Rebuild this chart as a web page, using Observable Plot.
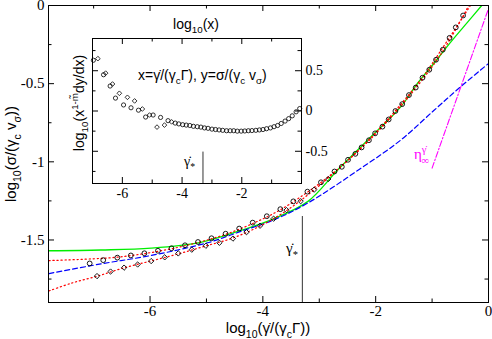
<!DOCTYPE html>
<html><head><meta charset="utf-8">
<script src="https://cdn.jsdelivr.net/npm/d3@7"></script>
<script src="https://cdn.jsdelivr.net/npm/@observablehq/plot@0.6"></script>
<style>
body{margin:0;background:#fff}
#wrap{position:relative;width:492px;height:339px;overflow:hidden;background:#fff}
#wrap svg{position:absolute;left:0;top:0}
</style></head><body><div id="wrap"></div>
<script>
// ---------- main panel data ----------
const circX = [-7.07,-6.83,-6.58,-6.34,-6.10,-5.86,-5.62,-5.38,-5.15,-4.91,-4.66,-4.42,-4.18,-3.93,-3.69,-3.46,-3.21,-2.97,-2.73,-2.49,-2.25,-2.01,-1.77,-1.53,-1.29,-1.05,-0.81,-0.58];
const circY = [-1.650,-1.629,-1.613,-1.599,-1.585,-1.569,-1.553,-1.534,-1.513,-1.489,-1.460,-1.427,-1.389,-1.348,-1.303,-1.253,-1.191,-1.131,-1.062,-0.987,-0.908,-0.818,-0.729,-0.631,-0.525,-0.411,-0.283,-0.140];
const diamX = [-6.94,-6.70,-6.46,-6.22,-5.98,-5.74,-5.50,-5.26,-5.01,-4.77,-4.53,-4.29,-4.05,-3.81,-3.58,-3.33,-3.09,-2.84];
const diamY = [-1.731,-1.702,-1.677,-1.657,-1.635,-1.611,-1.586,-1.562,-1.537,-1.518,-1.491,-1.450,-1.409,-1.364,-1.309,-1.252,-1.178,-1.110];
const circ2X = [-2.60,-2.36,-2.12,-1.88,-1.65,-1.41,-1.17,-0.93,-0.69,-0.45];
const circ2Y = [-1.032,-0.949,-0.862,-0.775,-0.675,-0.573,-0.462,-0.347,-0.207,-0.064];
const redAX = [-7.79,-7.04,-6.58,-6.11,-5.63,-5.15,-4.67,-4.18,-3.70,-3.22,-2.73,-2.25,-1.77,-1.29,-0.81,-0.35];
const redAY = [-1.632,-1.621,-1.610,-1.588,-1.557,-1.516,-1.465,-1.395,-1.309,-1.197,-1.064,-0.911,-0.732,-0.529,-0.293,0.0];
const redBX = [-7.79,-7.40,-6.94,-6.46,-5.98,-5.50,-5.01,-4.53,-4.05,-3.58,-3.10,-2.60,-2.12,-1.65,-1.17,-0.69,-0.32];
const redBY = [-1.826,-1.777,-1.732,-1.678,-1.634,-1.589,-1.538,-1.487,-1.411,-1.312,-1.182,-1.025,-0.858,-0.672,-0.459,-0.204,0.0];
const greenX = [-7.79,-6.87,-5.98,-5.10,-4.39,-3.81,-3.20,-2.67,-2.14,-1.56,-1.26,-0.97,-0.67,-0.37,-0.12];
const greenY = [-1.569,-1.564,-1.552,-1.515,-1.439,-1.365,-1.253,-1.051,-0.860,-0.650,-0.499,-0.371,-0.234,-0.106,0.0];
const blueX = [-7.79,-6.87,-5.98,-4.96,-4.39,-3.81,-3.20,-2.30,-1.56,-0.97,-0.53,0];
const blueY = [-1.715,-1.653,-1.599,-1.516,-1.445,-1.372,-1.263,-1.051,-0.862,-0.672,-0.531,-0.371];
const etaX = [-1.0, 0.0];
const etaY = [-1.04, -0.02];
const gammaStar = -3.3;
const mainStarSpan = [-1.35, -1.9];
const mainXMajor = [-6,-4,-2,0], mainXMinor = [-7,-5,-3,-1];
const mainYMajor = [0,-0.5,-1,-1.5], mainYMinor = [-0.25,-0.75,-1.25,-1.75];

// ---------- inset data ----------
const inCircX = [-6.97,-6.63,-6.41,-6.23,-5.96,-5.71,-5.46,-5.22,-4.97,-4.72,-4.47,-4.23,-3.98,-3.74,-3.49,-3.25,-3.00,-2.76,-2.51,-2.27,-2.02,-1.78,-1.53,-1.29,-1.04,-0.80,-0.55,-0.31,-0.06];
const inCircY = [0.63,0.45,0.31,0.16,0.075,0.04,0.01,-0.075,-0.05,-0.08,-0.12,-0.15,-0.17,-0.18,-0.195,-0.21,-0.225,-0.235,-0.245,-0.245,-0.25,-0.245,-0.24,-0.23,-0.21,-0.18,-0.125,-0.06,0.03];
const inDiamX = [-6.82,-6.56,-6.33,-6.10,-5.83,-5.59,-5.33,-5.09,-4.84,-4.59,-4.35];
const inDiamY = [0.65,0.47,0.335,0.22,0.17,0.125,0.025,-0.05,-0.20,-0.175,-0.135];
const inCirc2X = [-4.11,-3.86,-3.62,-3.37,-3.13,-2.88,-2.64,-2.39,-2.15,-1.90,-1.66,-1.41,-1.17,-0.92,-0.68,-0.43,-0.18];
const inCirc2Y = [-0.16,-0.175,-0.19,-0.20,-0.215,-0.23,-0.24,-0.245,-0.25,-0.248,-0.243,-0.235,-0.22,-0.195,-0.155,-0.095,-0.01];
const inStarSpan = [-0.51, -0.9];
const inXMajor = [-6,-4,-2], inXMinor = [-7,-5,-3,-1];
const inYMajor = [0.5,0,-0.5], inYMinor = [0.75,0.25,-0.25,-0.75];

const zip = (xs, ys) => xs.map((x, i) => ({x, y: ys[i]}));
const serif = "'Liberation Serif','Times New Roman',serif";
const sans = "'Liberation Sans',Arial,Helvetica,sans-serif";
const W = 492, H = 339;

function edgeTicks(xMaj, xMin, yMaj, yMin, fw, fh, maj, min) {
  const m = [];
  for (const [vals, len] of [[xMaj, maj], [xMin, min]]) {
    m.push(Plot.tickX(vals, {x: d => d, stroke: "black", strokeWidth: 1, insetTop: fh - len}));
    m.push(Plot.tickX(vals, {x: d => d, stroke: "black", strokeWidth: 1, insetBottom: fh - len}));
  }
  for (const [vals, len] of [[yMaj, maj], [yMin, min]]) {
    m.push(Plot.tickY(vals, {y: d => d, stroke: "black", strokeWidth: 1, insetRight: fw - len}));
    m.push(Plot.tickY(vals, {y: d => d, stroke: "black", strokeWidth: 1, insetLeft: fw - len}));
  }
  return m;
}

function rich(svg, {x, y, rotate = 0, anchor = "start", size = 15, family = sans, fill = "black"}, parts) {
  const t = d3.select(svg).append("text")
    .attr("transform", `translate(${x},${y})` + (rotate ? ` rotate(${rotate})` : ""))
    .attr("text-anchor", anchor).attr("font-family", family)
    .attr("font-size", size).attr("fill", fill);
  let shift = 0;
  for (const p of parts) {
    let s, k = null, dx = 0;
    if (typeof p === "string") s = p; else [s, k, dx = 0] = p;
    const target = k === "sub" ? size * 0.3 : k === "sup" ? -size * 0.42 : 0;
    const ts = t.append("tspan").text(s).attr("dy", target - shift);
    if (dx) ts.attr("dx", dx);
    if (k) ts.attr("font-size", size * 0.7);
    shift = target;
  }
}

// ---------- main plot ----------
const mL = 48, mR = 4, mT = 5, mB = 37;
const fw = W - mL - mR, fh = H - mT - mB;
const main = Plot.plot({
  width: W, height: H,
  marginLeft: mL, marginRight: mR, marginTop: mT, marginBottom: mB,
  x: {domain: [-7.8, 0], label: null},
  y: {domain: [-1.9, 0], label: null},
  style: {background: "white", color: "black"},
  marks: [
    ...edgeTicks(mainXMajor, mainXMinor, mainYMajor, mainYMinor, fw, fh, 6, 3.5),
    Plot.axisX(mainXMajor, {tickSize: 0, tickPadding: 3, tickFormat: d => String(d), fontFamily: serif, fontSize: 15, label: null}),
    Plot.axisY(mainYMajor, {tickSize: 0, tickPadding: 4, tickFormat: d => String(d), fontFamily: serif, fontSize: 15, label: null}),
    Plot.line(zip(greenX, greenY), {x: "x", y: "y", stroke: "#00ee00", strokeWidth: 1.3, curve: "catmull-rom", clip: true}),
    Plot.line(zip(blueX, blueY), {x: "x", y: "y", stroke: "#0000ff", strokeWidth: 1.2, strokeDasharray: "5,3", curve: "catmull-rom", clip: true}),
    Plot.line(zip(redAX, redAY), {x: "x", y: "y", stroke: "#ff0000", strokeWidth: 1.2, strokeDasharray: "1.2,2.8", curve: "catmull-rom", clip: true}),
    Plot.line(zip(redBX, redBY), {x: "x", y: "y", stroke: "#ff0000", strokeWidth: 1.2, strokeDasharray: "1.2,2.8", curve: "catmull-rom", clip: true}),
    Plot.line(zip(etaX, etaY), {x: "x", y: "y", stroke: "#ff00ff", strokeWidth: 1.1, strokeDasharray: "6,2,1.5,2", clip: true}),
    Plot.ruleX([gammaStar], {x: d => d, y1: mainStarSpan[0], y2: mainStarSpan[1], stroke: "#333", strokeWidth: 1}),
    Plot.dot(zip(circX, circY), {x: "x", y: "y", r: 2.4, stroke: "black", strokeWidth: 0.9, fill: "none"}),
    Plot.dot(zip(circ2X, circ2Y), {x: "x", y: "y", r: 2.4, stroke: "black", strokeWidth: 0.9, fill: "none"}),
    Plot.dot(zip(diamX, diamY), {x: "x", y: "y", r: 2.4, symbol: "diamond2", stroke: "black", strokeWidth: 0.9, fill: "none"}),
    Plot.frame({stroke: "black", strokeWidth: 1})
  ]
});
document.getElementById("wrap").appendChild(main);
rich(main, {x: 16, y: 154, rotate: -90, anchor: "middle", size: 15}, ["log", ["10", "sub"], "(σ/(γ", ["c", "sub"], " v", ["σ", "sub"], "))"]);
rich(main, {x: 268, y: 333, anchor: "middle", size: 15}, ["log", ["10", "sub"], "(γ̇/(γ", ["c", "sub"], "Γ))"]);
rich(main, {x: 286, y: 253, size: 15, family: serif}, ["γ̇", ["*", "sub"]]);
rich(main, {x: 414, y: 159, size: 15, family: serif, fill: "#ff00ff"}, ["η", ["γ̇", "sup"], ["∞", "sub", -5]]);

// ---------- inset ----------
const iL = 92, iR = W - 301, iT = 38, iB = H - 183;
const ifw = W - iL - iR, ifh = H - iT - iB;
const inset = Plot.plot({
  width: W, height: H,
  marginLeft: iL, marginRight: iR, marginTop: iT, marginBottom: iB,
  x: {domain: [-7, 0], label: null},
  y: {domain: [-0.9, 0.9], label: null},
  style: {background: "transparent", color: "black"},
  marks: [
    ...edgeTicks(inXMajor, inXMinor, inYMajor, inYMinor, ifw, ifh, 6, 3.5),
    Plot.axisX(inXMajor, {anchor: "bottom", tickSize: 0, tickPadding: 5, tickFormat: d => String(d), fontFamily: serif, fontSize: 14, label: null}),
    Plot.axisY(inYMajor, {anchor: "right", tickSize: 0, tickPadding: 4, tickFormat: d => String(d), fontFamily: serif, fontSize: 14, label: null}),
    Plot.ruleX([gammaStar], {x: d => d, y1: inStarSpan[0], y2: inStarSpan[1], stroke: "#333", strokeWidth: 1}),
    Plot.dot(zip(inCircX, inCircY), {x: "x", y: "y", r: 2.1, stroke: "black", strokeWidth: 0.8, fill: "none"}),
    Plot.dot(zip(inCirc2X, inCirc2Y), {x: "x", y: "y", r: 2.1, stroke: "black", strokeWidth: 0.8, fill: "none"}),
    Plot.dot(zip(inDiamX, inDiamY), {x: "x", y: "y", r: 2.1, symbol: "diamond2", stroke: "black", strokeWidth: 0.8, fill: "none"}),
    Plot.frame({stroke: "black", strokeWidth: 1})
  ]
});
document.getElementById("wrap").appendChild(inset);
rich(inset, {x: 196, y: 29, anchor: "middle", size: 14}, ["log", ["10", "sub"], "(x)"]);
rich(inset, {x: 138, y: 80, size: 14}, ["x=γ̇/(γ", ["c", "sub"], "Γ), y=σ/(γ", ["c", "sub"], " v", ["σ", "sub"], ")"]);
rich(inset, {x: 84, y: 103, rotate: -90, anchor: "middle", size: 14}, ["log", ["10", "sub"], "(x", ["1-m̃", "sup"], "dy/dx)"]);
rich(inset, {x: 184, y: 166, size: 14, family: serif}, ["γ̇", ["*", "sub"]]);
</script></body></html>
